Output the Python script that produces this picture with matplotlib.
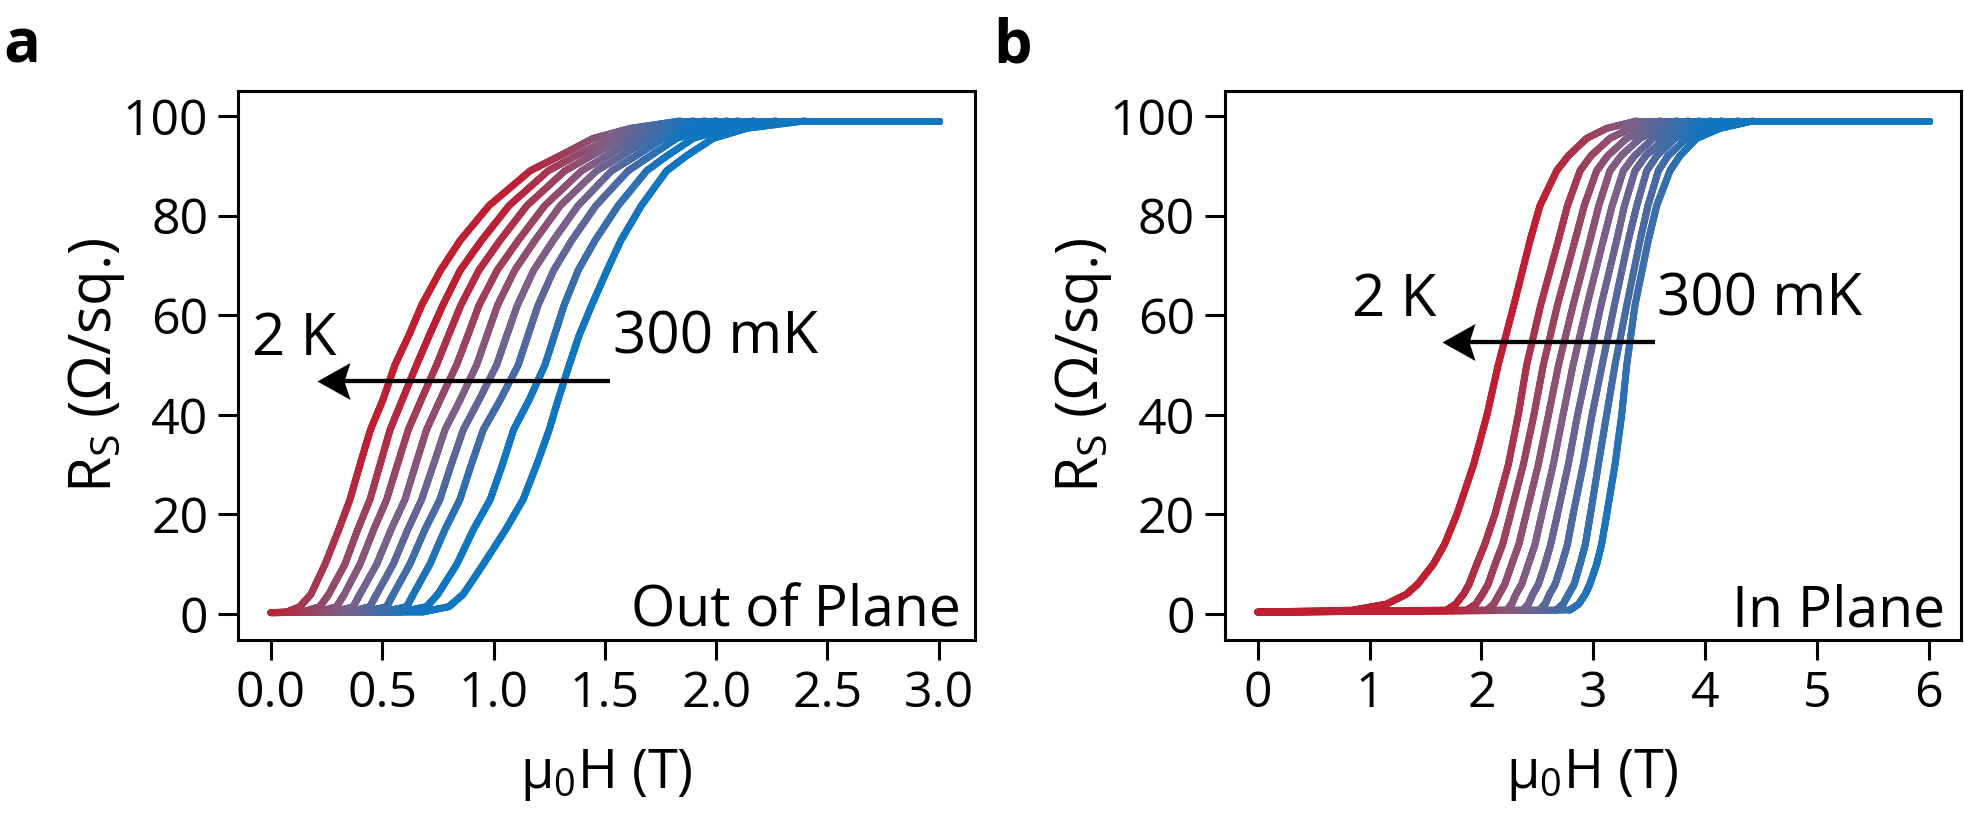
import numpy as np
import matplotlib
matplotlib.use("Agg")
import matplotlib.pyplot as plt
from matplotlib.collections import LineCollection
from matplotlib.colors import LinearSegmentedColormap
from matplotlib.path import Path

plt.rcParams['font.family'] = ['Open Sans', 'DejaVu Sans']
plt.rcParams['mathtext.fontset'] = 'custom'
plt.rcParams['mathtext.rm'] = 'Open Sans'
plt.rcParams['mathtext.it'] = 'Open Sans:italic'
plt.rcParams['mathtext.bf'] = 'Open Sans:bold'

# ---------------- data ----------------
# Curves ordered from 2 K (red, leftmost) to 300 mK (blue, rightmost).
# For each curve: field (T) at which R_s reaches each resistance level.

# Panel a: out of plane
oop_levels = [0.4, 1.5, 4, 10, 17, 23, 30, 37, 43, 50, 56, 62, 69, 75, 82, 89, 92, 95.5, 97.5, 99]
oop_fields = [
    [0.07, 0.13, 0.18, 0.243, 0.305, 0.355, 0.40, 0.447, 0.503, 0.557, 0.62, 0.677, 0.762, 0.850, 0.98, 1.165, 1.298, 1.448, 1.613, 1.84],
    [0.14, 0.22, 0.26, 0.332, 0.39, 0.445, 0.49, 0.535, 0.59, 0.654, 0.712, 0.772, 0.85, 0.946, 1.07, 1.246, 1.37, 1.523, 1.68, 1.90],
    [0.21, 0.295, 0.33, 0.400, 0.462, 0.520, 0.568, 0.617, 0.675, 0.744, 0.798, 0.853, 0.934, 1.029, 1.15, 1.321, 1.44, 1.583, 1.74, 1.95],
    [0.28, 0.37, 0.40, 0.475, 0.54, 0.602, 0.65, 0.699, 0.76, 0.834, 0.885, 0.935, 1.016, 1.111, 1.23, 1.396, 1.51, 1.643, 1.80, 2.00],
    [0.35, 0.445, 0.475, 0.549, 0.615, 0.677, 0.73, 0.782, 0.85, 0.924, 0.971, 1.018, 1.095, 1.186, 1.30, 1.463, 1.575, 1.703, 1.85, 2.05],
    [0.42, 0.52, 0.55, 0.624, 0.692, 0.759, 0.81, 0.864, 0.935, 1.014, 1.06, 1.107, 1.18, 1.268, 1.38, 1.531, 1.64, 1.762, 1.91, 2.10],
    [0.50, 0.61, 0.64, 0.714, 0.782, 0.849, 0.90, 0.954, 1.03, 1.111, 1.155, 1.200, 1.27, 1.351, 1.46, 1.605, 1.705, 1.823, 1.97, 2.17],
    [0.58, 0.70, 0.75, 0.835, 0.91, 0.985, 1.04, 1.090, 1.16, 1.231, 1.274, 1.317, 1.38, 1.456, 1.56, 1.688, 1.78, 1.897, 2.05, 2.27],
    [0.68, 0.80, 0.864, 0.954, 1.055, 1.133, 1.194, 1.250, 1.29, 1.340, 1.385, 1.441, 1.51, 1.572, 1.664, 1.778, 1.867, 1.987, 2.137, 2.40],
]
oop_start = (0.0, 0.3)     # common low-field baseline point
oop_end = (3.0, 99.0)      # common normal-state plateau point

# Panel b: in plane
ip_levels = [0.8, 2, 4, 6, 10, 14, 20, 30, 40, 50, 62, 75, 82, 89, 92, 95.5, 97.5, 99]
ip_fields = [
    [0.85, 1.15, 1.33, 1.43, 1.57, 1.67, 1.78, 1.93, 2.05, 2.15, 2.29, 2.435, 2.524, 2.674, 2.778, 2.942, 3.121, 3.39],
    [1.69, 1.77, 1.84, 1.89, 1.958, 2.03, 2.12, 2.241, 2.33, 2.405, 2.53, 2.688, 2.77, 2.882, 2.98, 3.150, 3.33, 3.60],
    [1.87, 1.95, 2.01, 2.06, 2.122, 2.19, 2.26, 2.375, 2.47, 2.554, 2.68, 2.837, 2.92, 3.031, 3.13, 3.300, 3.48, 3.75],
    [2.05, 2.11, 2.16, 2.21, 2.271, 2.335, 2.40, 2.509, 2.60, 2.690, 2.82, 2.971, 3.05, 3.150, 3.25, 3.419, 3.60, 3.85],
    [2.23, 2.27, 2.31, 2.36, 2.420, 2.48, 2.54, 2.643, 2.73, 2.820, 2.945, 3.090, 3.17, 3.270, 3.37, 3.538, 3.71, 3.95],
    [2.37, 2.42, 2.46, 2.51, 2.569, 2.62, 2.68, 2.777, 2.86, 2.955, 3.07, 3.210, 3.28, 3.374, 3.47, 3.642, 3.81, 4.05],
    [2.52, 2.57, 2.61, 2.66, 2.718, 2.77, 2.82, 2.911, 2.99, 3.080, 3.19, 3.314, 3.39, 3.479, 3.57, 3.732, 3.91, 4.15],
    [2.67, 2.73, 2.78, 2.83, 2.882, 2.93, 2.975, 3.046, 3.12, 3.195, 3.30, 3.419, 3.49, 3.583, 3.67, 3.836, 4.02, 4.30],
    [2.79, 2.87, 2.93, 2.97, 3.031, 3.075, 3.121, 3.195, 3.255, 3.300, 3.374, 3.493, 3.568, 3.687, 3.776, 3.926, 4.134, 4.43],
]
ip_start = (0.0, 0.4)
ip_end = (6.0, 99.0)

oop_xticks = [0.0, 0.5, 1.0, 1.5, 2.0, 2.5, 3.0]
oop_xticklabels = ['0.0', '0.5', '1.0', '1.5', '2.0', '2.5', '3.0']
ip_xticks = [0, 1, 2, 3, 4, 5, 6]
ip_xticklabels = ['0', '1', '2', '3', '4', '5', '6']
yticks = [0, 20, 40, 60, 80, 100]

# ---------------- style ----------------
cmap = LinearSegmentedColormap.from_list(
    'rb', ['#be1f31', '#7e6088', '#1176c0'])
LW_CURVE = 5.0
FS_TICK = 36
FS_XLABEL = 39
FS_YLABEL = 42
FS_ANN = 42
FS_PLANE = 41

fig = plt.figure(figsize=(19.64, 8.19), dpi=100)
W, H = 1964.0, 819.0
ax_a = fig.add_axes([238 / W, 1 - 640 / H, 737 / W, 549 / H])
ax_b = fig.add_axes([1224.5 / W, 1 - 640 / H, 736.5 / W, 549 / H])


def draw_panel(ax, levels, fields, start, end, slope, s_red, s_blue):
    nsub = 40
    for row in fields[::-1]:
        xs = np.array([start[0]] + list(row) + [end[0]])
        ys = np.array([start[1]] + list(levels) + [end[1]])
        segs = []
        for i in range(len(xs) - 1):
            t = np.linspace(0, 1, nsub + 1)
            px = xs[i] + (xs[i + 1] - xs[i]) * t
            py = ys[i] + (ys[i + 1] - ys[i]) * t
            pts = np.column_stack([px, py])
            segs.append(np.stack([pts[:-1], pts[1:]], axis=1))
        segs = np.concatenate(segs)
        mid = segs.mean(axis=1)
        s = mid[:, 0] - slope * mid[:, 1]
        tt = np.clip((s - s_red) / (s_blue - s_red), 0, 1)
        lc = LineCollection(segs, colors=cmap(tt), linewidths=LW_CURVE,
                            capstyle='round', joinstyle='round')
        ax.add_collection(lc)


draw_panel(ax_a, oop_levels, oop_fields, oop_start, oop_end, 0.0127, 0.0, 0.63)
draw_panel(ax_b, ip_levels, ip_fields, ip_start, ip_end, 0.0101, 1.7, 3.0)

# arrowhead marker (concave "stealth" head pointing left, tip at origin)
head = Path([(0, 0), (33, 18.5), (27, 0), (33, -18.5), (0, 0)],
            [Path.MOVETO, Path.LINETO, Path.LINETO, Path.LINETO, Path.CLOSEPOLY])
HEAD_MS = 2 * 33 * 72 / 100.0


def arrow(ax, x_tail, x_tip, y, head_len):
    ax.plot([x_tail, x_tip + head_len], [y, y], color='black', lw=3.1,
            solid_capstyle='butt', zorder=5)
    ax.plot([x_tip], [y], marker=head, markersize=HEAD_MS, color='black',
            markeredgewidth=0, linestyle='none', zorder=6)


arrow(ax_a, 1.523, 0.205, 46.8, 0.12)
arrow(ax_b, 3.553, 1.645, 54.6, 0.24)

for ax, xt, xtl, xl in [(ax_a, oop_xticks, oop_xticklabels, (-0.148, 3.163)),
                        (ax_b, ip_xticks, ip_xticklabels, (-0.298, 6.29))]:
    ax.set_xlim(*xl)
    ax.set_ylim(-5.2, 105)
    ax.set_xticks(xt)
    ax.set_xticklabels(xtl)
    ax.set_yticks(yticks)
    ax.tick_params(direction='out', length=14.4, width=2.2, labelsize=FS_TICK,
                   pad=7)
    for sp in ax.spines.values():
        sp.set_linewidth(2.2)
    ax.set_xlabel('μ$_\\mathrm{0}$H (T)', fontsize=FS_XLABEL)
    ax.set_ylabel('R$_\\mathrm{S}$ (Ω/sq.)', fontsize=FS_YLABEL)
    ax.xaxis.set_label_coords(0.5, -0.245)
    ax.xaxis.label.set_va('center')
    ax.yaxis.set_label_coords(-0.192, 0.5)
    ax.yaxis.label.set_va('center')

ax_a.text(-0.087, 52.1, '2 K', fontsize=FS_ANN, ha='left', va='baseline')
ax_a.text(1.537, 52.4, '300 mK', fontsize=FS_ANN, ha='left', va='baseline')
ax_a.text(3.10, -2.5, 'Out of Plane', fontsize=FS_PLANE, ha='right', va='baseline')

ax_b.text(0.84, 59.9, '2 K', fontsize=FS_ANN, ha='left', va='baseline')
ax_b.text(3.568, 60.0, '300 mK', fontsize=FS_ANN, ha='left', va='baseline')
ax_b.text(6.15, -2.5, 'In Plane', fontsize=FS_PLANE, ha='right', va='baseline')

fig.text(3 / W, 1 - 62.6 / H, 'a', fontsize=44, fontweight='bold', ha='left', va='baseline')
fig.text(993 / W, 1 - 62.6 / H, 'b', fontsize=44, fontweight='bold', ha='left', va='baseline')

fig.savefig('out.png', dpi=100)
